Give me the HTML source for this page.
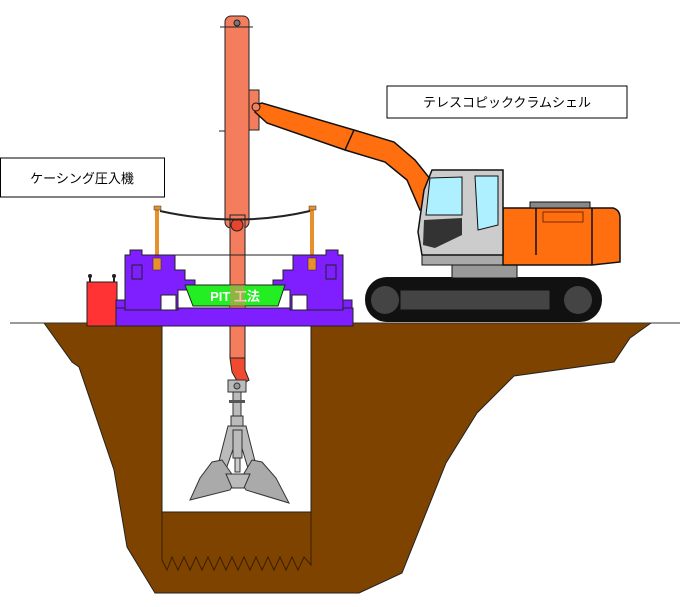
<!DOCTYPE html>
<html><head><meta charset="utf-8"><style>
html,body{margin:0;padding:0;background:#fff;}
svg{display:block;}
text{font-family:"Liberation Sans","Noto Sans CJK JP",sans-serif;}
</style></head><body>
<svg width="682" height="607" viewBox="0 0 682 607" xmlns="http://www.w3.org/2000/svg">
<!-- soil -->
<polygon points="44,323 72,362 79,367 114,470 127,547 155,593 359,593 402,573 446,463 477,413 514,376 614,362 630,338 651,323" fill="#7f4300" stroke="#222" stroke-width="1"/>
<line x1="10" y1="323" x2="680" y2="323" stroke="#333" stroke-width="1"/>
<!-- pit -->
<rect x="162" y="323" width="149" height="189" fill="#fff" stroke="#222" stroke-width="1"/>
<path d="M162,512 L162,560 L167,570 L172,557 L178,570 L184,557 L190,570 L196,557 L202,570 L208,557 L214,570 L220,557 L226,570 L232,557 L238,570 L244,557 L250,570 L256,557 L262,570 L268,557 L274,570 L280,557 L286,570 L292,557 L298,570 L304,557 L311,565 L311,512" fill="none" stroke="#3a1f00" stroke-width="1"/>
<!-- labels -->
<rect x="387" y="86" width="240" height="32" fill="#fff" stroke="#000" stroke-width="1"/>
<text x="507" y="107" font-size="13" text-anchor="middle">テレスコピッククラムシェル</text>
<rect x="0.5" y="158" width="164" height="39" fill="#fff" stroke="#000" stroke-width="1"/>
<text x="82" y="183" font-size="13" text-anchor="middle">ケーシング圧入機</text>
<!-- mast -->
<rect x="225" y="16" width="24" height="212" rx="6" fill="#f47d5e" stroke="#222" stroke-width="1"/>
<circle cx="237" cy="23" r="3" fill="#777" stroke="#222"/>
<line x1="220" y1="27" x2="253" y2="27" stroke="#222"/>
<line x1="219" y1="131" x2="225" y2="131" stroke="#222"/>
<rect x="249" y="90" width="10" height="40" fill="#f47d5e" stroke="#222"/>
<rect x="230" y="215" width="15" height="143" fill="#f47d5e" stroke="#222"/>
<circle cx="237" cy="225" r="6" fill="#e8452e" stroke="#222"/>
<path d="M230,358 L245,358 L245,370 L249,380 L240,386 L232,372 L230,358Z" fill="#f04a30" stroke="#222"/>
<!-- boom -->
<path d="M255,105 L262,103 L354,130 L394,142 L415,160 L431,180 L438,200 L420,210 L407,180 L385,162 L345,150 L267,123 L255,112Z" fill="#ff6f10" stroke="#111" stroke-width="1.5"/>
<line x1="345" y1="150" x2="354" y2="130" stroke="#111" stroke-width="1.5"/>
<circle cx="256" cy="107" r="4" fill="#f47d5e" stroke="#111"/>
<!-- grab -->
<rect x="228" y="380" width="18" height="12" fill="#bbb" stroke="#333"/>
<circle cx="237" cy="386" r="3" fill="#999" stroke="#333"/>
<rect x="233" y="392" width="8" height="24" fill="#bbb" stroke="#333"/>
<rect x="229" y="400" width="16" height="3" fill="#555"/>
<rect x="231" y="416" width="12" height="10" fill="#bbb" stroke="#333"/>
<path d="M228,426 L246,426 L258,473 L250,475 L238,435 L224,475 L216,473Z" fill="#bbb" stroke="#333"/>
<rect x="233" y="430" width="9" height="28" fill="#bbb" stroke="#333"/>
<rect x="235" y="458" width="5" height="14" fill="#ccc" stroke="#333"/>
<path d="M222,460 L212,462 L200,478 L190,500 L230,490 L236,480Z" fill="#aaa" stroke="#333"/>
<path d="M252,460 L262,462 L276,478 L289,503 L246,490 L240,480Z" fill="#aaa" stroke="#333"/>
<path d="M226,474 L250,474 L244,488 L232,488Z" fill="#bbb" stroke="#333"/>
<!-- casing press -->
<line x1="157" y1="210" x2="157" y2="260" stroke="#e8902c" stroke-width="4"/>
<line x1="312" y1="210" x2="312" y2="260" stroke="#e8902c" stroke-width="4"/>
<rect x="154" y="206" width="7" height="4" fill="#e8902c" stroke="#333" stroke-width="0.5"/>
<rect x="309" y="206" width="7" height="4" fill="#e8902c" stroke="#333" stroke-width="0.5"/>
<path d="M160,211 Q237,228 310,211" fill="none" stroke="#222" stroke-width="2"/>
<line x1="175" y1="255" x2="293" y2="255" stroke="#222" stroke-width="1"/>
<rect x="87" y="282" width="30" height="44" fill="#f33" stroke="#222"/>
<line x1="90" y1="282" x2="90" y2="275" stroke="#222" stroke-width="2"/><circle cx="90" cy="276" r="2" fill="#222"/>
<line x1="114" y1="282" x2="114" y2="275" stroke="#222" stroke-width="2"/><circle cx="114" cy="276" r="2" fill="#222"/>
<rect x="116" y="308" width="237" height="18" fill="#7f1fff" stroke="#222"/>
<path d="M125,310 L125,255 L130,255 L130,250 L142,250 L142,255 L175,255 L175,270 L185,270 L185,280 L195,280 L195,290 L178,290 L178,310Z" fill="#7f1fff" stroke="#222"/>
<rect x="161" y="295" width="15" height="15" fill="#fff" stroke="#222"/>
<rect x="132" y="265" width="10" height="14" fill="#7f1fff" stroke="#222"/>
<rect x="153" y="258" width="8" height="12" fill="#e8902c" stroke="#222" stroke-width="0.5"/>
<path d="M343,310 L343,255 L338,255 L338,250 L326,250 L326,255 L293,255 L293,270 L283,270 L283,280 L273,280 L273,290 L290,290 L290,310Z" fill="#7f1fff" stroke="#222"/>
<rect x="292" y="295" width="15" height="15" fill="#fff" stroke="#222"/>
<rect x="326" y="265" width="10" height="14" fill="#7f1fff" stroke="#222"/>
<rect x="308" y="258" width="8" height="12" fill="#e8902c" stroke="#222" stroke-width="0.5"/>
<rect x="116" y="300" width="9" height="8" fill="#7f1fff" stroke="#222"/>
<rect x="343" y="300" width="9" height="8" fill="#7f1fff" stroke="#222"/>
<polygon points="185,285 285,285 278,306 193,306" fill="#22ee22" stroke="#222"/>
<text x="235" y="301" font-size="13" font-weight="bold" fill="#fff" text-anchor="middle">PIT 工法</text>
<rect x="230" y="285" width="15" height="23" fill="#f47d5e" opacity="0.5"/>
<!-- excavator tracks -->
<rect x="365" y="277" width="237" height="45" rx="22" fill="#111"/>
<rect x="400" y="290" width="150" height="20" fill="#444" stroke="#111"/>
<circle cx="385" cy="300" r="14" fill="#444"/>
<circle cx="578" cy="300" r="14" fill="#444"/>
<rect x="452" y="265" width="65" height="13" fill="#999" stroke="#111"/>
<!-- body -->
<rect x="422" y="255" width="170" height="10" fill="#aaa" stroke="#111"/>
<path d="M503,208 L613,208 Q620,210 620,218 L620,262 L592,265 L503,265Z" fill="#ff6f10" stroke="#111" stroke-width="1.5"/>
<line x1="536" y1="208" x2="536" y2="255" stroke="#111" stroke-width="1.5"/>
<line x1="592" y1="208" x2="592" y2="265" stroke="#111" stroke-width="1.5"/>
<rect x="543" y="212" width="40" height="10" fill="#ff6f10" stroke="#7a2a00"/>
<rect x="530" y="202" width="60" height="6" fill="#888" stroke="#111"/>
<path d="M432,170 L503,170 L503,255 L422,255 L418,232 L424,190Z" fill="#ccc" stroke="#111" stroke-width="1.5"/>
<path d="M430,178 L462,177 L462,215 L426,215Z" fill="#aef0ff" stroke="#111"/>
<path d="M475,176 L498,176 L498,225 L478,230Z" fill="#aef0ff" stroke="#111"/>
<path d="M424,220 L462,218 L462,235 L435,248 L423,245Z" fill="#333"/>
</svg>
</body></html>
